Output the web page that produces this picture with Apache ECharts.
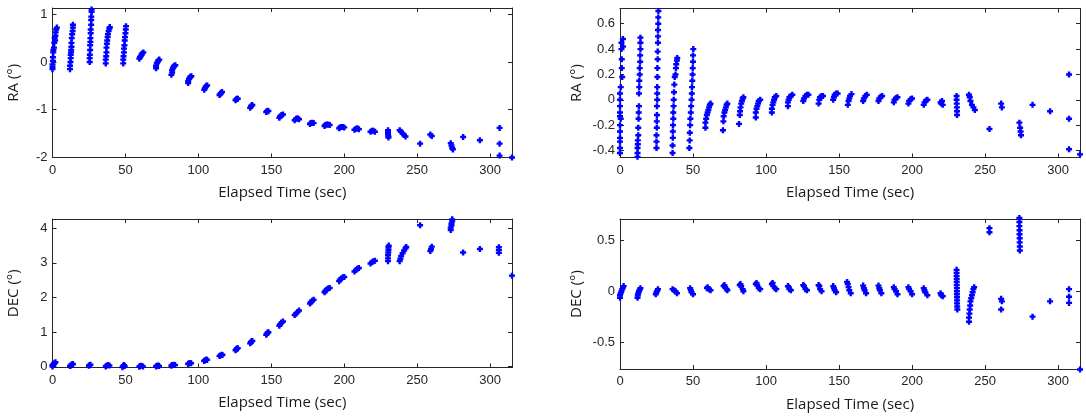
<!DOCTYPE html>
<html><head><meta charset="utf-8">
<script src="https://cdn.jsdelivr.net/npm/echarts@6/dist/echarts.min.js"></script>
<style>html,body{margin:0;padding:0;background:#fff}#c{width:1086px;height:418px}</style>
</head><body><div id="c"></div>
<script>
// ---- tick labels ----
const xTicks = [0, 50, 100, 150, 200, 250, 300];
const raTicks = [-2, -1, 0, 1];
const raResTicks = [-0.4, -0.2, 0, 0.2, 0.4, 0.6];
const decTicks = [0, 1, 2, 3, 4];
const decResTicks = [-0.5, 0, 0.5];

// ---- RA (deg) vs elapsed time (sec) ----
const raPoints = [
 [0,-0.15],[0,-0.1],[0,-0.05],[0.3,0.02],[0.3,0.1],[0.5,0.2],[0.6,0.25],[1,0.3],[1.2,0.4],[1.8,0.45],[1.5,0.5],[2,0.55],[2.2,0.62],[2.5,0.68],[3,0.72],
 [12,-0.15],[12,-0.08],[12.3,0],[12.5,0.08],[12.5,0.15],[12.7,0.2],[12.8,0.25],[13,0.32],[13,0.4],[13.2,0.5],[13.5,0.58],[13.8,0.65],[14,0.72],[14,0.78],
 [25.5,0],[25.5,0.08],[25.6,0.15],[25.8,0.25],[25.8,0.35],[26,0.42],[26,0.5],[26.2,0.6],[26.2,0.68],[26.5,0.78],[26.5,0.88],[26.6,0.95],[26.8,1.05],[26.8,1.1],
 [36.5,-0.03],[36.5,0.05],[36.8,0.12],[37,0.2],[37,0.3],[37.3,0.38],[37.5,0.45],[37.8,0.52],[38,0.58],[38.5,0.65],[39,0.7],[39.3,0.73],
 [48.5,-0.03],[48.5,0.05],[48.7,0.12],[49,0.2],[49,0.28],[49.3,0.35],[49.5,0.45],[49.7,0.52],[50,0.6],[50.2,0.68],[50.4,0.75],
 [59.5,0.07],[60,0.1],[60.5,0.12],[61,0.15],[61.5,0.18],[62.3,0.2],
 [71,-0.13],[71,-0.08],[71.5,-0.03],[72,0],[72.5,0.03],[73.2,0.05],
 [81.5,-0.27],[82,-0.22],[82,-0.17],[82.5,-0.13],[83,-0.1],[83.5,-0.08],[84.2,-0.07],
 [93,-0.44],[93,-0.4],[93.5,-0.36],[94,-0.33],[94.5,-0.31],[95.2,-0.3],
 [104,-0.58],[104.5,-0.55],[105,-0.52],[105.5,-0.5],[106,-0.49],
 [114.5,-0.69],[115,-0.67],[115.5,-0.65],[116.2,-0.63],
 [125.5,-0.8],[126,-0.78],[126.5,-0.77],[127,-0.77],
 [135.5,-0.96],[136,-0.93],[136.5,-0.91],[137,-0.9],
 [146.5,-1.05],[147,-1.03],[147.5,-1.02],[148,-1.03],
 [155.5,-1.17],[156,-1.14],[157,-1.11],[158,-1.1],
 [166,-1.22],[167,-1.19],[168,-1.18],[169,-1.2],
 [176.5,-1.3],[177,-1.28],[178,-1.27],[179,-1.28],
 [186.5,-1.34],[187,-1.32],[188,-1.31],[189,-1.31],[190,-1.32],
 [196.5,-1.39],[197,-1.37],[198,-1.36],[199,-1.36],[200,-1.37],
 [207,-1.42],[208,-1.4],[209,-1.39],[210,-1.41],
 [218,-1.46],[219,-1.44],[220,-1.44],[221,-1.46],
 [230,-1.43],[230,-1.47],[230,-1.51],[230.2,-1.55],[230.3,-1.58],
 [238,-1.43],[239,-1.46],[240,-1.5],[241,-1.53],[242,-1.56],
 [252,-1.71],[259,-1.52],[260,-1.55],[273,-1.7],[273.5,-1.75],[274,-1.8],[274.5,-1.83],
 [281.5,-1.57],[293,-1.64],[306.5,-1.38],[306.5,-1.71],[306.5,-1.96],[315,-2.0]
];

// ---- RA residual (deg) ----
const raResPoints = [
 [0,0.05],[0,0],[0,-0.05],[0,-0.1],[0,-0.13],[0,-0.2],[0,-0.25],[0,-0.3],[0,-0.33],[0,-0.38],[0,-0.42],[0.5,0.1],[0.5,-0.15],
 [1,0.45],[1,0.4],[1.2,0.32],[1.2,0.25],[1.5,0.18],[2,0.48],[2,0.42],
 [12,-0.45],[12,-0.42],[12,-0.38],[12.2,-0.35],[12.2,-0.32],[12.5,-0.28],[12.5,-0.22],[12.7,-0.15],[12.8,-0.1],[13,-0.05],[13,0.05],[13.2,0.1],[13.2,0.15],[13.5,0.2],[13.5,0.25],[13.8,0.3],[13.8,0.35],[14,0.4],[14,0.45],[14,0.49],
 [25,-0.38],[25,-0.33],[25,-0.28],[25.2,-0.22],[25.2,-0.17],[25.3,-0.12],[25.3,-0.05],[25.5,0],[25.5,0.05],[25.5,0.1],[25.6,0.18],[25.6,0.25],[25.8,0.32],[25.8,0.38],[26,0.45],[26,0.5],[26,0.55],[26.2,0.6],[26.2,0.65],[26.3,0.7],
 [36,-0.42],[36,-0.36],[36.2,-0.3],[36.2,-0.25],[36.3,-0.2],[36.5,-0.15],[36.5,-0.1],[36.7,-0.05],[36.8,0],[37,0.06],[37.2,0.12],[37.5,0.18],[38,0.2],[38.3,0.25],[38.5,0.28],[39,0.31],[39.2,0.33],
 [47.5,-0.38],[47.7,-0.32],[47.8,-0.26],[48,-0.2],[48.2,-0.15],[48.5,-0.1],[48.7,-0.05],[49,0],[49.2,0.05],[49.3,0.1],[49.5,0.15],[49.7,0.2],[49.8,0.25],[50,0.3],[50,0.35],[50.2,0.4],
 [58.5,-0.22],[58.5,-0.18],[59,-0.15],[59.5,-0.12],[60,-0.1],[60.5,-0.08],[61,-0.06],[61.5,-0.04],[62,-0.03],
 [70.5,-0.24],[70.8,-0.17],[71,-0.13],[71.5,-0.1],[72,-0.08],[72.5,-0.06],[73,-0.04],[73.5,-0.03],
 [81.5,-0.19],[82,-0.12],[82.2,-0.09],[82.5,-0.06],[83,-0.03],[83.5,-0.01],[84,0.01],[84.5,0.02],
 [93,-0.14],[93,-0.1],[93.5,-0.07],[94,-0.05],[94.5,-0.03],[95,-0.01],[96,0],
 [104,-0.1],[104,-0.07],[104.5,-0.04],[105,-0.02],[105.5,0],[106,0.02],[107,0.03],
 [115,-0.05],[115,-0.02],[115.5,0],[116,0.02],[117,0.03],[118,0.04],
 [125.5,-0.01],[126,0.01],[127,0.03],[128,0.04],[129,0.04],
 [136,-0.03],[136.5,0],[137,0.02],[138,0.03],[139,0.03],
 [146,0],[146.5,0.02],[147,0.04],[148,0.05],[149,0.05],
 [156,-0.04],[156.5,-0.01],[157,0.01],[157.5,0.03],[158.5,0.045],
 [166.5,-0.01],[167,0.01],[168,0.03],[169,0.04],
 [177,-0.01],[177.5,0.01],[178.5,0.025],[179.5,0.03],
 [187.5,-0.02],[188,0],[189,0.015],[190,0.02],
 [197.5,-0.03],[198,-0.01],[199,0.005],[200,0.01],
 [208,-0.04],[208.5,-0.02],[209.5,-0.005],[210.5,0],
 [219.5,-0.02],[220,-0.03],[221,-0.04],[220.5,-0.01],
 [230.5,0.03],[230.5,0],[230.6,-0.03],[230.7,-0.06],[230.8,-0.09],[230.8,-0.12],
 [239,0.04],[239.5,0.02],[240,-0.01],[241,-0.04],[242,-0.06],[243,-0.08],
 [253,-0.23],[261,-0.03],[261.5,-0.06],[273.5,-0.18],[274,-0.22],[274.3,-0.25],[274.6,-0.28],
 [282.5,-0.04],[294.5,-0.09],[307.5,0.2],[307.5,-0.15],[307.5,-0.39],[315,-0.43]
];

// ---- DEC (deg) ----
const decPoints = [
 [0,0],[0,0.04],[0.5,0.06],[1,0.08],[1.5,0.1],[2,0.12],
 [12,0.01],[12.5,0.03],[13,0.05],[13.5,0.06],[14,0.07],
 [25,0.02],[25.5,0.04],[26,0.05],
 [36.5,0],[37,0.02],[38,0.04],[39,0.03],
 [48,-0.02],[48.5,0.02],[49,0.04],[49.5,0.01],
 [59.5,-0.01],[60,0.01],[61,0.02],[62,0],
 [71,0],[71.5,0.02],[72.5,0.03],[73,0.01],
 [81.5,0.02],[82,0.04],[83,0.05],[84,0.04],
 [93,0.07],[93.5,0.09],[94.5,0.1],[95,0.09],
 [104,0.16],[104.5,0.18],[105.5,0.2],[106,0.19],
 [114.5,0.3],[115,0.32],[116,0.34],[116.5,0.33],
 [125.5,0.47],[126,0.5],[126.5,0.52],[127,0.53],
 [135.5,0.67],[136,0.7],[136.5,0.73],[137,0.74],
 [146.5,0.92],[147,0.95],[147.5,0.98],[148,0.99],
 [155.5,1.18],[156,1.22],[157,1.27],[158,1.3],
 [166,1.49],[167,1.53],[168,1.58],[169,1.62],
 [176.5,1.82],[177,1.86],[178,1.9],[179,1.93],
 [186.5,2.15],[187,2.19],[188,2.23],[189,2.26],[190,2.27],
 [196.5,2.47],[197,2.51],[198,2.55],[199,2.58],[200,2.59],
 [207,2.75],[208,2.79],[209,2.83],[210,2.85],
 [218,2.98],[219,3.02],[220,3.05],[221,3.06],
 [230,3.05],[230,3.13],[230,3.22],[230.2,3.3],[230.3,3.38],[230.3,3.45],[230.5,3.5],
 [238,3.05],[238.5,3.12],[239,3.2],[240,3.28],[241,3.36],[242,3.42],[242.5,3.46],
 [252,4.09],[259,3.34],[259.5,3.4],[260,3.47],
 [273,3.95],[273,4.02],[273.5,4.08],[273.5,4.14],[274,4.2],[274,4.26],
 [281.5,3.3],[293,3.4],[306,3.29],[306,3.37],[306,3.45],[315,2.63]
];

// ---- DEC residual (deg) ----
const decResPoints = [
 [0,-0.065],[0,-0.04],[0.5,-0.02],[1,0],[1.5,0.02],[2,0.035],[2.5,0.05],
 [12,-0.065],[12.2,-0.04],[12.5,-0.02],[13,0],[13.5,0.015],[14,0.03],
 [24.5,-0.03],[25,-0.01],[25.5,0.005],[26,0.02],
 [36,0.02],[37,0.01],[38,0],[39,-0.02],
 [48,0.03],[48.5,0.01],[49,-0.01],[50,-0.03],
 [59.5,0.03],[60,0.04],[61,0.02],[62,0.01],
 [71,0.05],[71.5,0.06],[72,0.04],[73,0.02],[73.5,0.01],
 [82,0.06],[82.5,0.07],[83,0.05],[84,0.02],[84.5,0],
 [93,0.07],[93.5,0.08],[94,0.06],[95,0.03],[96,0.02],
 [104,0.07],[104.5,0.08],[105,0.05],[106,0.03],[107,0.02],
 [115,0.05],[115.5,0.04],[116,0.02],[117,0.01],
 [125.5,0.06],[126,0.05],[127,0.02],[128,0.01],
 [136,0.06],[136.5,0.05],[137,0.02],[138,0],
 [146,0.05],[146.5,0.03],[147,0.01],[148,-0.01],
 [155.5,0.09],[156,0.07],[156.5,0.04],[157,0.01],[158,-0.02],
 [166.5,0.055],[167,0.03],[167.5,0.01],[168.5,-0.02],
 [177,0.055],[177.5,0.03],[178,0.01],[179,-0.02],
 [187.5,0.04],[188,0.02],[189,0],[190,-0.03],
 [197.5,0.04],[198,0.02],[199,0],[200,-0.03],
 [208,0.03],[208.5,0.01],[209,-0.01],[210.5,-0.04],
 [219.5,-0.02],[220,-0.04],[221,-0.05],
 [230.5,0.21],[230.5,0.18],[230.5,0.15],[230.6,0.12],[230.6,0.09],[230.6,0.06],[230.7,0.03],[230.7,0],[230.7,-0.03],[230.8,-0.06],[230.8,-0.09],[230.8,-0.12],[230.9,-0.15],[231,-0.18],
 [239,-0.3],[239,-0.26],[239.3,-0.22],[239.5,-0.18],[239.8,-0.14],[240,-0.1],[240.5,-0.07],[241,-0.04],[241.5,-0.01],[242,0.02],[242.5,0.04],
 [253,0.62],[253,0.58],[261,-0.075],[261.5,-0.1],[261,-0.18],
 [273.5,0.72],[273.5,0.68],[273.5,0.64],[273.6,0.6],[273.6,0.56],[273.7,0.52],[273.7,0.48],[273.8,0.44],[273.8,0.4],
 [282.5,-0.25],[294.5,-0.1],[307.5,0.02],[307.5,-0.055],[307.5,-0.115],[315,-0.77]
];

const xName = 'Elapsed Time (sec)';
const panels = [
  {name:'RA (°)',  data:raPoints,     ticks:raTicks,     ymin:-2,     ymax:1.13, grid:{left:52.5, top:8,   width:459.5, height:149.5}, gap:31},
  {name:'RA (°)',  data:raResPoints,  ticks:raResTicks,  ymin:-0.455, ymax:0.72, grid:{left:620,  top:8.5, width:460,   height:149},   gap:36},
  {name:'DEC (°)', data:decPoints,    ticks:decTicks,    ymin:-0.03,  ymax:4.27, grid:{left:52.5, top:219, width:459.5, height:148.5}, gap:31},
  {name:'DEC (°)', data:decResPoints, ticks:decResTicks, ymin:-0.765, ymax:0.71, grid:{left:620,  top:219, width:460,   height:150},   gap:36}
];

const axisCol = '#262626';
const labelStyle = {color:'#262626', fontFamily:'Liberation Sans, Arial, sans-serif', fontSize:13};
const nameStyle = {color:'#1a1a1a', fontFamily:'Open Sans, Noto Sans, sans-serif', fontSize:15};
const fmt = v => String(Math.round(v*10)/10);
const plus = 'path://M1.5,0 L3.5,0 L3.5,1.5 L5,1.5 L5,3.5 L3.5,3.5 L3.5,5 L1.5,5 L1.5,3.5 L0,3.5 L0,1.5 L1.5,1.5 Z';

const grid = [], xAxis = [], yAxis = [], series = [];
panels.forEach((p, i) => {
  grid.push(Object.assign({containLabel:false}, p.grid));
  const tickCommon = {show:true, inside:true, length:4, lineStyle:{color:axisCol, width:1}};
  xAxis.push({type:'value', gridIndex:i, min:0, max:315, position:'bottom',
    name:xName, nameLocation:'middle', nameGap:28, nameTextStyle:nameStyle,
    axisLine:{show:true, onZero:false, lineStyle:{color:axisCol, width:1}},
    axisTick:Object.assign({customValues:xTicks}, tickCommon),
    axisLabel:Object.assign({customValues:xTicks, margin:6, formatter:fmt}, labelStyle),
    splitLine:{show:false}});
  xAxis.push({type:'value', gridIndex:i, min:0, max:315, position:'top',
    axisLine:{show:true, onZero:false, lineStyle:{color:axisCol, width:1}},
    axisTick:Object.assign({customValues:xTicks}, tickCommon),
    axisLabel:{show:false}, splitLine:{show:false}});
  yAxis.push({type:'value', gridIndex:i, min:p.ymin, max:p.ymax, position:'left',
    name:p.name, nameLocation:'middle', nameGap:p.gap, nameRotate:90, nameTextStyle:nameStyle,
    axisLine:{show:true, onZero:false, lineStyle:{color:axisCol, width:1}},
    axisTick:Object.assign({customValues:p.ticks}, tickCommon),
    axisLabel:Object.assign({customValues:p.ticks, margin:5, formatter:fmt}, labelStyle),
    splitLine:{show:false}});
  yAxis.push({type:'value', gridIndex:i, min:p.ymin, max:p.ymax, position:'right',
    axisLine:{show:true, onZero:false, lineStyle:{color:axisCol, width:1}},
    axisTick:Object.assign({customValues:p.ticks}, tickCommon),
    axisLabel:{show:false}, splitLine:{show:false}});
  series.push({type:'scatter', xAxisIndex:2*i, yAxisIndex:2*i, data:p.data,
    symbol:plus, symbolSize:6, clip:false, silent:true,
    itemStyle:{color:'#0000ff', opacity:1}});
});

const chart = echarts.init(document.getElementById('c'), null, {renderer:'canvas'});
chart.setOption({animation:false, backgroundColor:'#fff', grid, xAxis, yAxis, series});
</script></body></html>
